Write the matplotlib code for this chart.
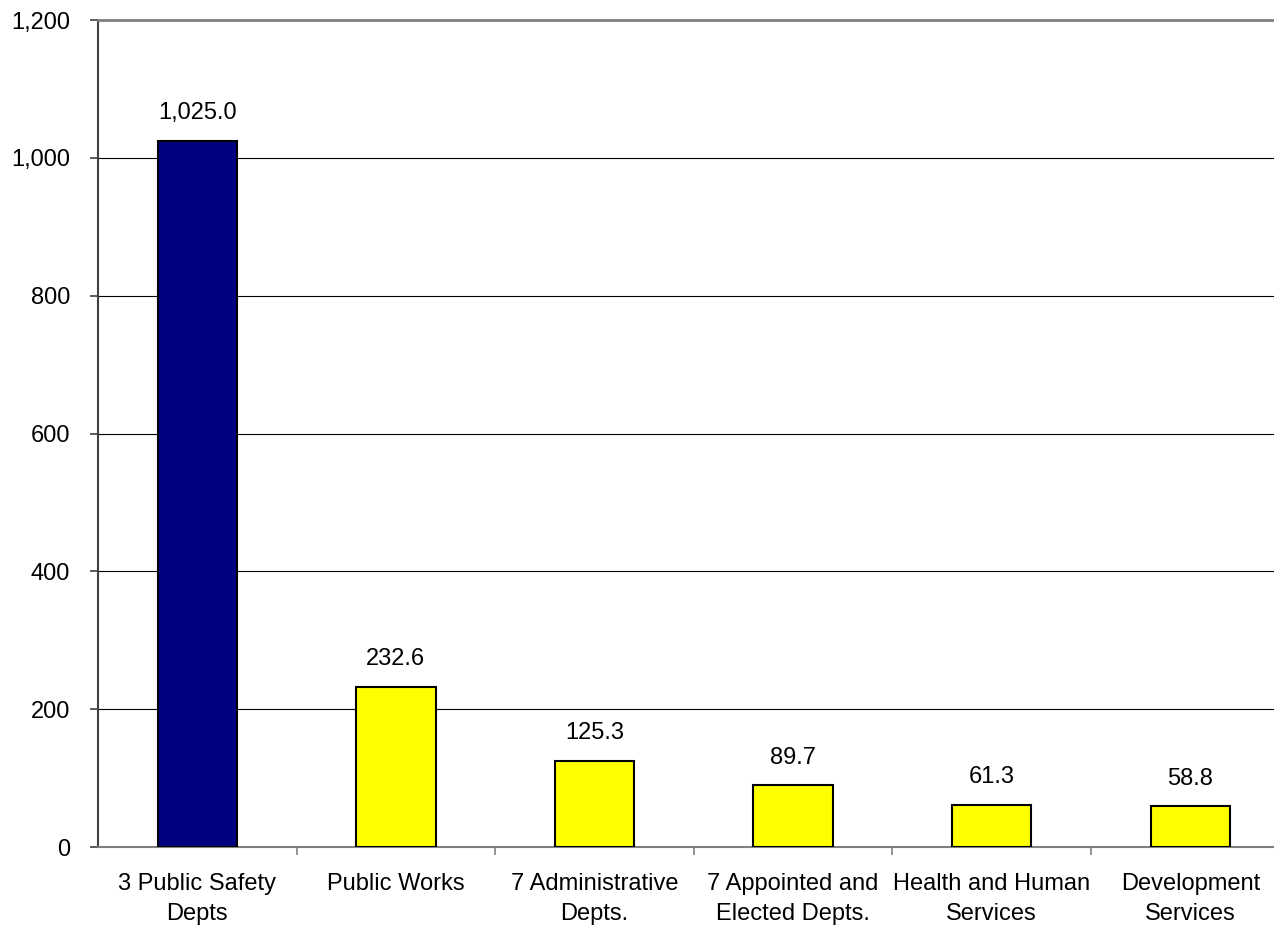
import matplotlib.pyplot as plt
from matplotlib.ticker import FuncFormatter

plt.rcParams['font.family'] = ['Liberation Sans', 'DejaVu Sans']

departments = ["3 Public Safety\nDepts", "Public Works", "7 Administrative\nDepts.",
               "7 Appointed and\nElected Depts.", "Health and Human\nServices",
               "Development\nServices"]
values = [1025.0, 232.6, 125.3, 89.7, 61.3, 58.8]
bar_colors = ["#000080", "#FFFF00", "#FFFF00", "#FFFF00", "#FFFF00", "#FFFF00"]

fs = 17

fig = plt.figure(figsize=(12.74, 9.26), dpi=100)
ax = fig.add_axes([98 / 1274, 1 - 847 / 926, 1 - 98 / 1274, (847 - 20) / 926])

x = list(range(len(values)))
bars = ax.bar(x, values, width=0.40, color=bar_colors, edgecolor="black",
              linewidth=1.5, zorder=3)

for xi, v in zip(x, values):
    ax.text(xi, v + 24, f"{v:,.1f}", ha="center", va="bottom", fontsize=fs)

ax.set_ylim(0, 1200)
ax.set_yticks(range(0, 1201, 200))
ax.yaxis.set_major_formatter(FuncFormatter(lambda v, p: f"{int(v):,}"))
ax.set_xlim(-0.5, -0.5 + (1274 - 98) / 198.6)

ax.set_xticks(x)
ax.set_xticklabels(departments, linespacing=1.45)
ax.set_xticks([i + 0.5 for i in range(5)], minor=True)
ax.tick_params(axis="x", which="major", length=0, pad=19, labelsize=fs)
ax.tick_params(axis="x", which="minor", length=6, width=1.2, color="#808080")
ax.tick_params(axis="y", length=6, width=1.2, color="#404040", pad=14, labelsize=fs)

ax.grid(axis="y", color="black", linewidth=0.8, zorder=0)
ax.set_axisbelow(True)

ax.spines["right"].set_visible(False)
ax.spines["top"].set_color("#808080")
ax.spines["top"].set_linewidth(2)
ax.spines["bottom"].set_color("#808080")
ax.spines["bottom"].set_linewidth(1.5)
ax.spines["left"].set_color("#404040")
ax.spines["left"].set_linewidth(1.5)

fig.savefig("out.png", dpi=100)
